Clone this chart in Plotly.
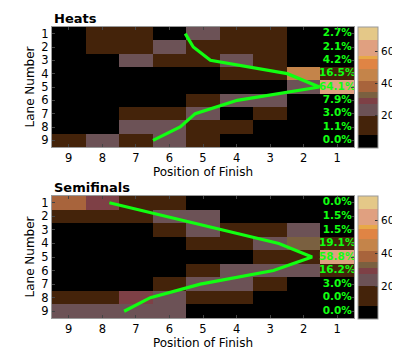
import plotly.graph_objects as go

# ---------------- data ----------------
positions = [9, 8, 7, 6, 5, 4, 3, 2, 1]          # columns, left to right
lanes = [1, 2, 3, 4, 5, 6, 7, 8, 9]              # rows, top to bottom

# percentage of finishes (per lane, per position), columns in `positions` order
heats_z = [
    [3, 13, 13, 4, 23, 12, 12, 3, 2.7],
    [3, 14, 12, 22, 13, 14, 12, 4, 2.1],
    [2, 4, 23, 14, 13, 22, 12, 5, 4.2],
    [1, 2, 3, 4, 6, 13, 14, 45, 16.5],
    [0, 1, 2, 3, 5, 6, 7, 24, 64.1],
    [2, 3, 4, 5, 13, 24, 23, 6, 7.9],
    [4, 5, 13, 12, 22, 7, 14, 3, 3.0],
    [6, 7, 23, 22, 14, 13, 5, 2, 1.1],
    [14, 23, 13, 22, 12, 4, 3, 2, 0.0],
]
semis_z = [
    [38, 29, 13, 12, 4, 3, 2, 1, 0.0],
    [13, 14, 12, 23, 22, 5, 4, 3, 1.5],
    [3, 4, 5, 13, 23, 12, 14, 22, 1.5],
    [1, 2, 3, 4, 12, 13, 24, 33, 19.1],
    [0, 1, 2, 3, 4, 6, 13, 12, 58.8],
    [2, 3, 4, 5, 13, 22, 23, 24, 16.2],
    [4, 5, 6, 13, 23, 22, 12, 5, 3.0],
    [12, 13, 29, 22, 13, 12, 3, 2, 0.0],
    [22, 23, 24, 22, 5, 3, 2, 1, 0.0],
]
# win percentage per lane (shown as text)
heats_win = [2.7, 2.1, 4.2, 16.5, 64.1, 7.9, 3.0, 1.1, 0.0]
semis_win = [0.0, 1.5, 1.5, 19.1, 58.8, 16.2, 3.0, 0.0, 0.0]
# mean position of finish per lane (green curve)
heats_mean = [5.53, 5.29, 4.78, 2.49, 1.53, 3.98, 5.23, 5.68, 6.49]
semis_mean = [7.79, 6.11, 4.43, 2.74, 1.75, 2.90, 5.08, 6.57, 7.35]

cb_ticks = [20, 40, 60]

# ---------------- styling ----------------
zmin, zmax = 0, 75
edges = [0, 8, 20, 27.5, 31, 35, 41.5, 49, 55, 57.3, 67, 75]
band_colors = ["#000000", "#44230a", "#6c5256", "#7e4046", "#7a6040",
               "#a8643c", "#c4844a", "#e08444", "#e8a848", "#e0a080", "#e4c888"]
cscale = []
for i, c in enumerate(band_colors):
    cscale.append([(edges[i] - zmin) / (zmax - zmin), c])
    cscale.append([(edges[i + 1] - zmin) / (zmax - zmin), c])

FONT = "DejaVu Sans, Verdana, sans-serif"
GREEN = "#11ff11"

OFF = 8  # page body margin
W, H = 400 - OFF, 357 - OFF
ml, mr, mt, mb = 52 - OFF, 46, 27 - OFF, 39
pw = W - ml - mr
ph = H - mt - mb
def py(p):  # window pixel y -> paper y
    return 1 - (p - OFF - mt) / ph

top_dom = [py(147), py(27)]
bot_dom = [py(318), py(196)]

fig = go.Figure()

def add_panel(z, win, mean, xa, ya, dom):
    fig.add_trace(go.Heatmap(
        z=z, x=positions, y=lanes, xaxis=xa, yaxis=ya,
        colorscale=cscale, zmin=zmin, zmax=zmax, hoverongaps=False,
        colorbar=dict(x=(358 - OFF - ml) / pw, xanchor="left",
                      y=dom[1], yanchor="top", ypad=0, xpad=0,
                      len=(dom[1] - dom[0]) * ph + 1, lenmode="pixels",
                      thickness=20, thicknessmode="pixels",
                      outlinecolor="#999", outlinewidth=1,
                      tickvals=cb_ticks, ticks="inside", ticklen=3,
                      tickcolor="#333",
                      tickfont=dict(family=FONT, size=10.5, color="#000")),
    ))
    fig.add_trace(go.Scatter(
        x=mean, y=lanes, xaxis=xa, yaxis=ya, mode="lines",
        line=dict(color=GREEN, width=3.2), showlegend=False, hoverinfo="skip"))
    fig.add_trace(go.Scatter(
        x=[1] * len(lanes), y=lanes, xaxis=xa, yaxis=ya, mode="text",
        text=["<b>%.1f%%</b>" % v for v in win],
        textfont=dict(family=FONT, size=10.5, color=GREEN),
        textposition="middle center", showlegend=False, hoverinfo="skip"))

add_panel(heats_z, heats_win, heats_mean, "x", "y", top_dom)
add_panel(semis_z, semis_win, semis_mean, "x2", "y2", bot_dom)

xax = dict(range=[9.5, 0.5], tickvals=positions, ticks="inside", ticklen=3,
           tickcolor="#444", showline=True, linecolor="#999", mirror="ticks",
           showgrid=False, zeroline=False, automargin=False,
           tickfont=dict(family=FONT, size=11.5, color="#000"),
           title=dict(text="Position of Finish", standoff=2,
                      font=dict(family=FONT, size=12, color="#000")))
yax = dict(range=[9.5, 0.5], tickvals=lanes, ticks="inside", ticklen=3,
           tickcolor="#444", showline=True, linecolor="#999", mirror="ticks",
           showgrid=False, zeroline=False, automargin=False,
           tickfont=dict(family=FONT, size=11.5, color="#000"),
           title=dict(text="Lane Number", standoff=4,
                      font=dict(family=FONT, size=12, color="#000")))

fig.update_layout(
    width=W, height=H, margin=dict(l=ml, r=mr, t=mt, b=mb, autoexpand=False),
    paper_bgcolor="white", plot_bgcolor="black", showlegend=False,
    xaxis=dict(xax, domain=[0, 1], anchor="y"),
    yaxis=dict(yax, domain=top_dom, anchor="x"),
    xaxis2=dict(xax, domain=[0, 1], anchor="y2"),
    yaxis2=dict(yax, domain=bot_dom, anchor="x2"),
    annotations=[
        dict(text="<b>Heats</b>", x=0, y=top_dom[1], xref="paper", yref="paper",
             xanchor="left", yanchor="bottom", showarrow=False, yshift=-1,
             font=dict(family=FONT, size=13, color="#000")),
        dict(text="<b>Semifinals</b>", x=0, y=bot_dom[1], xref="paper", yref="paper",
             xanchor="left", yanchor="bottom", showarrow=False, yshift=-1,
             font=dict(family=FONT, size=13, color="#000")),
    ],
)

fig.write_html("out.html")
